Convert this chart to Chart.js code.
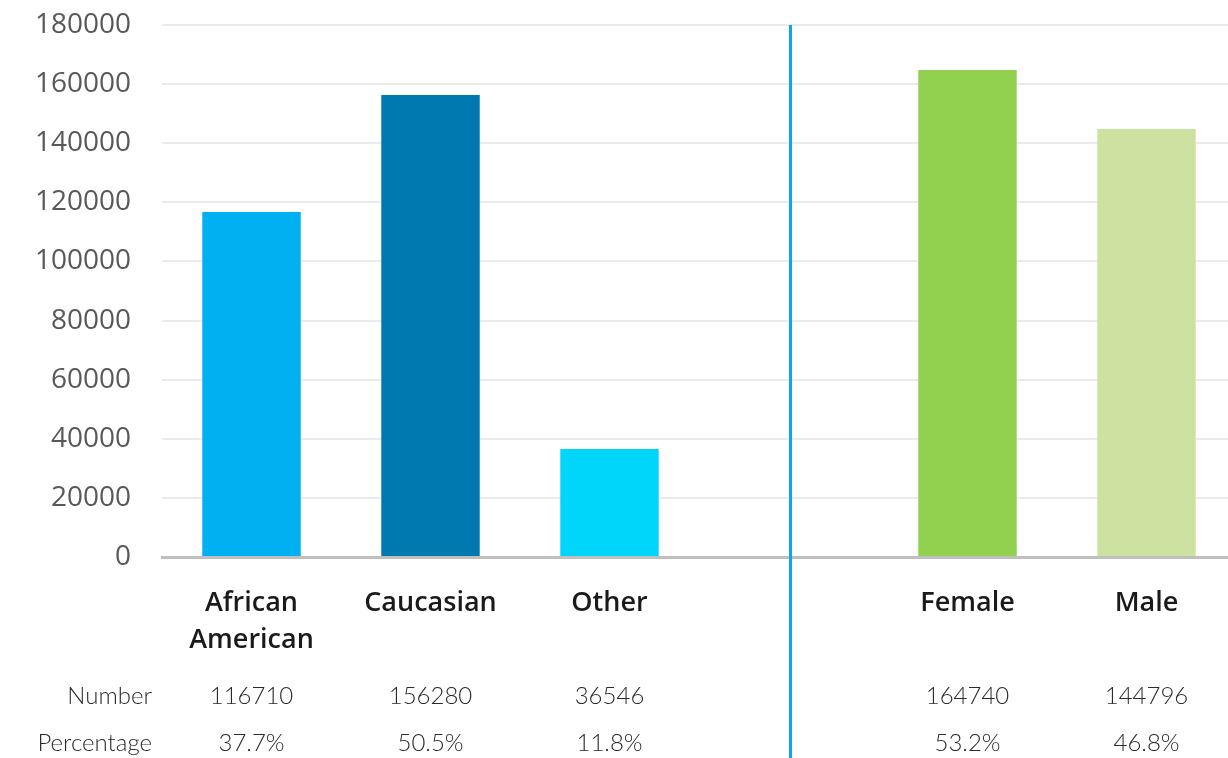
<!DOCTYPE html>
<html>
<head>
<meta charset="utf-8">
<script src="https://cdn.jsdelivr.net/npm/chart.js@4.4.1/dist/chart.umd.min.js"></script>
<style>
  html, body { margin: 0; padding: 0; background: #fff; overflow: hidden; }
  #wrap { width: 1236px; height: 758px; }
</style>
</head>
<body>
<div id="wrap"><canvas id="c"></canvas></div>
<script>
// chart data
const categories = [['African', 'American'], 'Caucasian', 'Other', '', 'Female', 'Male'];
const counts = [116710, 156280, 36546, null, 164740, 144796];
const barColors = ['#00B0F0', '#0079B0', '#00D6FA', '#ffffff', '#92D050', '#CDE2A0'];
const numberRow = ['116710', '156280', '36546', '', '164740', '144796'];
const percentRow = ['37.7%', '50.5%', '11.8%', '', '53.2%', '46.8%'];
const rowLabels = ['Number', 'Percentage'];
const yTicks = { min: 0, max: 180000, step: 20000 };

// divider between race and gender groups + the table under the axis
const extras = {
  id: 'extras',
  afterDraw(chart) {
    const { ctx, chartArea, scales: { x } } = chart;
    ctx.save();
    const dx = Math.round(x.getPixelForValue(3)) + 1.5;
    ctx.strokeStyle = '#12A5E6';
    ctx.lineWidth = 3;
    ctx.beginPath();
    ctx.moveTo(dx, chartArea.top);
    ctx.lineTo(dx, chart.height);
    ctx.stroke();

    ctx.font = '300 24px Lato';
    ctx.fillStyle = '#2b2b2b';
    ctx.textBaseline = 'middle';
    const rows = [numberRow, percentRow];
    const ys = [696, 743];
    rows.forEach((row, r) => {
      ctx.textAlign = 'right';
      ctx.fillText(rowLabels[r], 152, ys[r]);
      ctx.textAlign = 'center';
      row.forEach((t, i) => { if (t) ctx.fillText(t, x.getPixelForValue(i), ys[r]); });
    });
    ctx.restore();
  },
};

new Chart(document.getElementById('c'), {
  type: 'bar',
  data: {
    labels: categories,
    datasets: [{
      data: counts,
      backgroundColor: barColors,
      borderWidth: 0,
      categoryPercentage: 1,
      barPercentage: 0.55,
    }],
  },
  options: {
    responsive: true,
    maintainAspectRatio: false,
    animation: false,
    layout: { padding: { top: 25, left: 0, right: 0, bottom: 0 } },
    plugins: { legend: { display: false }, tooltip: { enabled: false } },
    scales: {
      x: {
        grid: { display: false },
        border: { color: '#BFBFBF', width: 3 },
        ticks: { color: '#1a1a1a', font: { family: 'Open Sans', size: 27, weight: '600', lineHeight: 1.4 }, padding: 19, maxRotation: 0 },
        afterFit: (s) => { s.height = 201; },
      },
      y: {
        min: yTicks.min,
        max: yTicks.max,
        grid: { color: '#EBEBEB', lineWidth: 2, drawTicks: false },
        border: { display: false },
        ticks: { stepSize: yTicks.step, color: '#595959', padding: 31, font: { family: 'Open Sans', size: 28 }, callback: (v) => String(v) },
        afterFit: (s) => { s.width = 162; s.paddingTop = 0; s.paddingBottom = 0; },
      },
    },
  },
  plugins: [extras],
});
</script>
</body>
</html>
